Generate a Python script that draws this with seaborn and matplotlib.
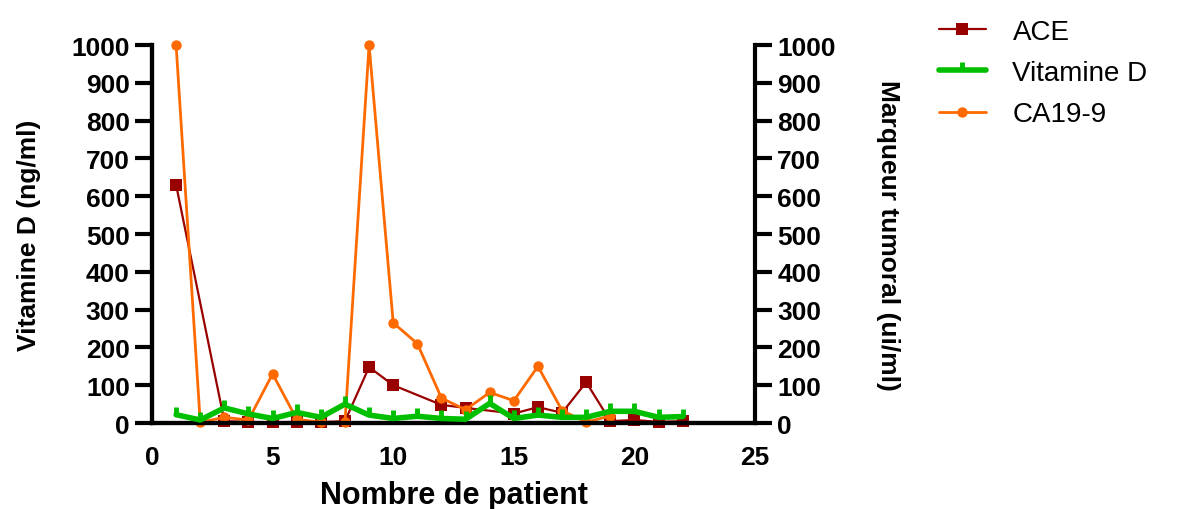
import numpy as np
import pandas as pd
import matplotlib
matplotlib.use("Agg")
import matplotlib.pyplot as plt
import seaborn as sns

# Patient index and measurements
patients = list(range(1, 23))

vitamine_d = [22, 8, 40, 24, 12, 28, 15, 50, 21, 12, 18, 12, 10, 52, 12,
              21, 15, 15, 31, 31, 15, 17]

# ACE was not measured for patients 2, 11 and 14
ace_patients = [1, 3, 4, 5, 6, 7, 8, 9, 10, 12, 13, 15, 16, 17, 18, 19, 20, 21, 22]
ace = [630, 5, 3, 2, 3, 2, 5, 148, 100, 48, 40, 25, 42, 27, 108, 5, 8, 3, 5]

ca199_patients = list(range(1, 20))
ca199 = [1000, 2, 15, 8, 130, 10, 2, 2, 1000, 265, 210, 66, 35, 81, 59,
         150, 33, 2, 19]

x_ticks = [0, 5, 10, 15, 20, 25]
y_ticks = list(range(0, 1001, 100))

sns.set_theme(style="white")
plt.rcParams["font.family"] = ["Liberation Sans", "DejaVu Sans"]

fig = plt.figure(figsize=(11.93, 5.10), dpi=100)
ax = fig.add_axes([0.1274, 0.1686, 0.6329 - 0.1274, 0.9098 - 0.1686])
ax2 = ax.twinx()

c_ace = "#990000"
c_vit = "#00BF00"
c_ca = "#FF6A00"

sns.lineplot(x=patients, y=vitamine_d, ax=ax, color=c_vit, linewidth=4,
             marker=2, markersize=6, markeredgewidth=3.5, markeredgecolor=c_vit,
             label="Vitamine D", legend=False, zorder=3)
sns.lineplot(x=ace_patients, y=ace, ax=ax2, color=c_ace, linewidth=1.6,
             marker="s", markersize=8, markeredgewidth=0,
             label="ACE", legend=False, zorder=2, clip_on=False)
sns.lineplot(x=ca199_patients, y=ca199, ax=ax2, color=c_ca, linewidth=2,
             marker="o", markersize=7.5, markeredgewidth=0,
             label="CA19-9", legend=False, zorder=2, clip_on=False)

for a in (ax, ax2):
    a.set_xlim(0, 25)
    a.set_ylim(0, 1000)
    a.set_yticks(y_ticks)
    a.set_yticklabels([str(v) for v in y_ticks], fontsize=19, fontweight="bold")
    a.spines["top"].set_visible(False)
    for s in a.spines.values():
        s.set_linewidth(3)
        s.set_color("black")
    a.grid(False)
    a.set_facecolor("none")

ax.set_xticks(x_ticks)
ax.set_xticklabels([str(v) for v in x_ticks], fontsize=19, fontweight="bold")
ax.tick_params(axis="x", direction="inout", length=16, width=3, pad=8, colors="black")
ax.tick_params(axis="y", direction="out", length=12, width=3, pad=4, colors="black")
ax2.tick_params(axis="y", direction="out", length=12, width=3, pad=4, colors="black")
ax.spines["right"].set_visible(False)

ax.set_xlabel("Nombre de patient", fontsize=22, fontweight="bold", labelpad=8,
              color="black")
ax.set_ylabel("Vitamine D (ng/ml)", fontsize=19, fontweight="bold", labelpad=22,
              color="black")
ax2.set_ylabel("Marqueur tumoral (ui/ml)", fontsize=19, fontweight="bold",
               rotation=270, labelpad=46, color="black")

ax.set_zorder(ax2.get_zorder() + 1)

h1, l1 = ax2.get_legend_handles_labels()
h2, l2 = ax.get_legend_handles_labels()
handles = [h1[0], h2[0], h1[1]]
labels = [l1[0], l2[0], l1[1]]
fig.legend(handles, labels, loc="upper left", bbox_to_anchor=(0.766, 1.01),
           frameon=False, fontsize=20, handlelength=1.7, labelspacing=0.55,
           handletextpad=0.95, labelcolor="black")

fig.savefig("out.png", dpi=100)
